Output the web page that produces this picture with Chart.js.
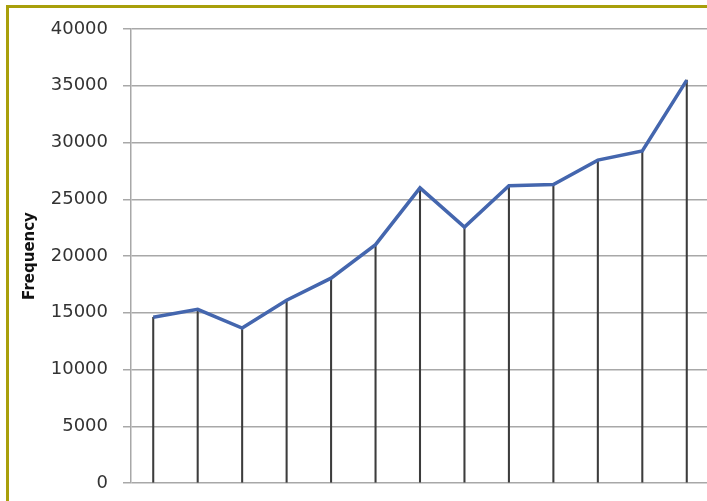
<!DOCTYPE html>
<html>
<head>
<meta charset="utf-8">
<script src="https://cdn.jsdelivr.net/npm/chart.js@4"></script>
<style>
  html, body { margin: 0; padding: 0; background: #fff; overflow: hidden; }
  #frame {
    position: absolute; left: 6px; top: 5px; width: 1000px; height: 1000px;
    border-top: 3px solid #a89f0a; border-left: 3px solid #a89f0a;
  }
  #wrap { position: absolute; left: 0; top: 0; width: 709px; height: 501px; }
</style>
</head>
<body>
<div id="frame"></div>
<div id="wrap"><canvas id="chart"></canvas></div>
<script>
// values
const categories = ['1', '2', '3', '4', '5', '6', '7', '8', '9', '10', '11', '12', '13']
const frequency = [14600, 15300, 13650, 16100, 18050, 21000, 26000, 22550, 26200, 26300, 28450, 29250, 35500]
const yTicks = [0, 5000, 10000, 15000, 20000, 25000, 30000, 35000, 40000]

const ctx = document.getElementById('chart').getContext('2d')

new Chart(ctx, {
  data: {
    labels: categories,
    datasets: [
      {
        type: 'line',
        label: 'Frequency',
        data: frequency,
        borderColor: '#4466ae',
        borderWidth: 3.5,
        pointRadius: 0,
        tension: 0
      },
      {
        // thin bars used as drop lines down to the axis
        type: 'bar',
        label: 'drop',
        data: frequency,
        backgroundColor: '#3c3c3c',
        barThickness: 1.4
      }
    ]
  },
  options: {
    responsive: true,
    maintainAspectRatio: false,
    animation: false,
    layout: {
      padding: { top: 29, bottom: 18, left: 0, right: 0 }
    },
    plugins: {
      legend: { display: false },
      tooltip: { enabled: false }
    },
    scales: {
      x: {
        display: false,
        offset: true
      },
      y: {
        min: 0,
        max: 40000,
        afterBuildTicks: (scale) => {
          scale.ticks = yTicks.map(v => ({ value: v }))
        },
        afterFit: (scale) => {
          scale.width = 131
          scale.paddingTop = 0
          scale.paddingBottom = 0
        },
        border: { display: true, color: '#a8a8a8', width: 1.5 },
        grid: {
          color: '#a8a8a8',
          lineWidth: 1.5,
          tickLength: 8
        },
        ticks: {
          padding: 15,
          color: '#333',
          font: { family: 'DejaVu Sans', size: 18 },
          callback: (value) => String(value)
        },
        title: {
          display: true,
          text: 'Frequency',
          color: '#111',
          padding: { top: 21, bottom: 0 },
          font: { family: 'DejaVu Sans', size: 15, weight: 'bold' }
        }
      }
    }
  }
})
</script>
</body>
</html>
